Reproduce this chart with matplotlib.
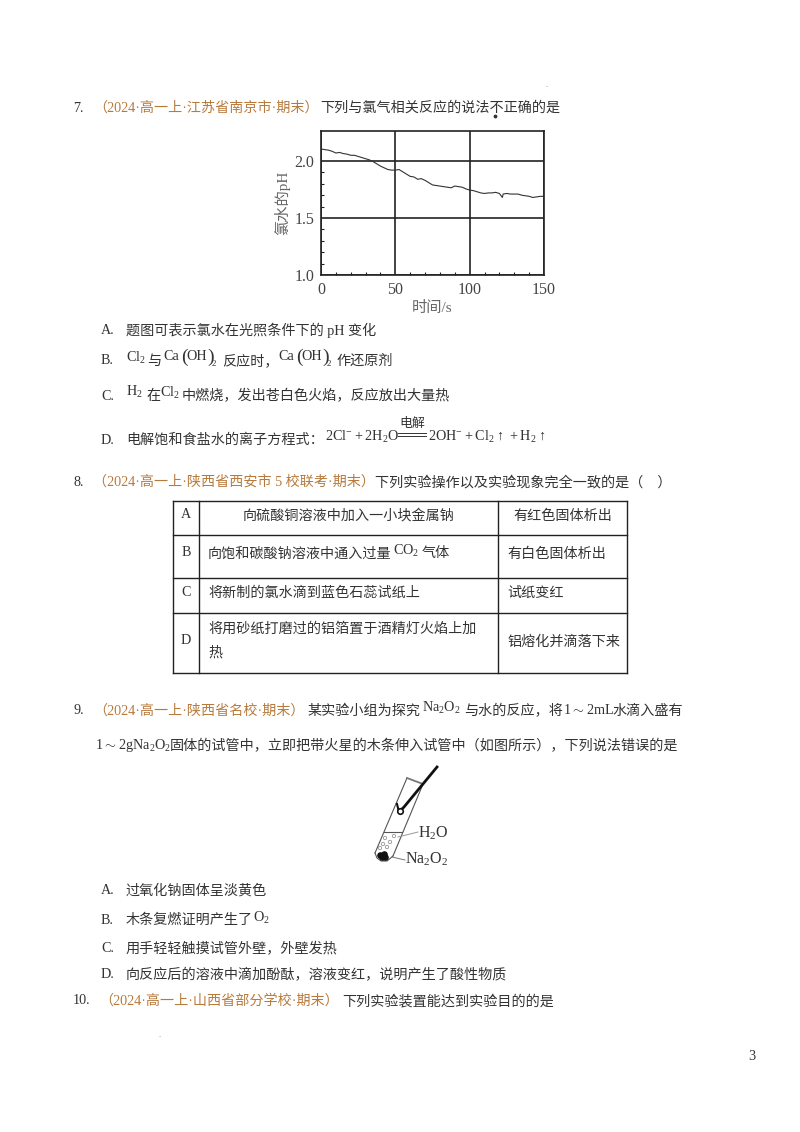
import matplotlib
matplotlib.use('Agg')
import matplotlib.pyplot as plt

plt.rcParams['font.family'] = ['Liberation Serif', 'Noto Sans CJK SC', 'DejaVu Sans']
plt.rcParams['mathtext.fontset'] = 'custom'
plt.rcParams['mathtext.rm'] = 'Liberation Serif'

# pH curve
time_s = [0, 2.5, 5, 7.5, 10, 12.5, 15, 17.5, 20, 22.5, 25, 27.5, 30, 32.5, 35, 37.5, 40, 42.5, 45, 47.5,
          50, 52.5, 55, 57.5, 60, 62.5, 65, 67.5, 70, 72.5, 75, 77.5, 80, 82.5, 85, 87.5, 90, 92.5, 95, 97.5,
          100, 102.5, 105, 107.5, 110, 112.5, 115, 117.5, 120, 122, 122.5, 125, 127.5, 130, 132.5, 135, 137.5,
          140, 142.5, 145, 147.5, 150]
ph = [2.105, 2.10, 2.095, 2.085, 2.07, 2.075, 2.065, 2.06, 2.05, 2.05, 2.04, 2.03, 2.02, 2.01, 1.995, 1.975, 1.955, 1.94, 1.925, 1.92,
      1.92, 1.925, 1.905, 1.885, 1.865, 1.86, 1.84, 1.845, 1.83, 1.81, 1.79, 1.785, 1.78, 1.775, 1.77, 1.765, 1.78, 1.775, 1.77, 1.755,
      1.745, 1.74, 1.73, 1.72, 1.715, 1.72, 1.72, 1.725, 1.715, 1.68, 1.71, 1.715, 1.71, 1.71, 1.71, 1.70, 1.695,
      1.69, 1.68, 1.685, 1.69, 1.69]

orange = '#b87a3c'
dark = '#333333'
line = '#222222'

fig = plt.figure(figsize=(8, 11.32), dpi=100)

# page overlay in pixel coordinates
page = fig.add_axes([0, 0, 1, 1])
page.set_xlim(0, 800)
page.set_ylim(1132, 0)
page.axis('off')


def put(x, y, s, color=dark, size=10.15, **kw):
    # y + 1 because the CJK glyph box sits a little high
    page.text(x, y + 1, s, color=color, fontsize=size, va='center', ha=kw.pop('ha', 'left'), **kw)


def ca_oh2(x, y):
    # Ca(OH)2 with the tall brackets the original formula has
    put(x, y, 'Ca')
    put(x + 18, y, '(', size=14)
    put(x + 23, y, 'OH')
    put(x + 44, y, ')', size=14)
    put(x + 49, y + 7, '2', size=6.5)


# question 7
put(73, 107, '7.')
put(93, 107, '（2024·高一上·江苏省南京市·期末）', orange)
put(320, 107, '下列与氯气相关反应的说法不正确的是')
page.scatter([495], [116], s=3, color=dark)
put(101, 329, 'A.')
put(126, 329, '题图可表示氯水在光照条件下的 pH 变化')
put(101, 360, 'B.')
put(126, 357, r'$\mathrm{Cl_2}$')
put(147, 360, '与')
ca_oh2(163, 356)
put(222, 360, '反应时，')
ca_oh2(278, 356)
put(337, 360, '作还原剂')
put(101, 395, 'C.')
put(126, 391, r'$\mathrm{H_2}$')
put(146, 395, '在')
put(160, 392, r'$\mathrm{Cl_2}$')
put(182, 395, '中燃烧，发出苍白色火焰，反应放出大量热')
put(101, 439, 'D.')
put(126, 439, '电解饱和食盐水的离子方程式：')
put(325, 436, r'$\mathrm{2Cl^{-}+2H_2O}$')
put(399, 423, '电解', size=9.3)
page.plot([398, 426], [433, 433], color=dark, lw=0.7)
page.plot([398, 426], [436, 436], color=dark, lw=0.7)
put(428, 436, r'$\mathrm{2OH^{-}+Cl_2\uparrow+H_2\uparrow}$')

# question 8
put(73, 481, '8.')
put(93, 481, '（2024·高一上·陕西省西安市 5 校联考·期末）', orange)
put(375, 481, '下列实验操作以及实验现象完全一致的是（    ）')

col_edges = [173, 199, 498, 627]
row_edges = [501, 535, 578, 613, 673]
for x in col_edges:
    page.plot([x, x], [row_edges[0], row_edges[-1]], color=line, lw=1.0)
for y in row_edges:
    page.plot([col_edges[0], col_edges[-1]], [y, y], color=line, lw=1.0)

row_letters = ['A', 'B', 'C', 'D']
letter_y = [514, 552, 592, 639]
col3 = ['有红色固体析出', '有白色固体析出', '试纸变红', '铝熔化并滴落下来']
col3_x = [513, 507, 507, 507]
col3_y = [515, 553, 592, 641]
for i, letter in enumerate(row_letters):
    put(186, letter_y[i], letter, ha='center')
    put(col3_x[i], col3_y[i], col3[i])
put(243, 515, '向硫酸铜溶液中加入一小块金属钠')
put(208, 553, '向饱和碳酸钠溶液中通入过量')
put(393, 550, r'$\mathrm{CO_2}$')
put(422, 553, '气体')
put(208, 592, '将新制的氯水滴到蓝色石蕊试纸上')
put(208, 628, '将用砂纸打磨过的铝箔置于酒精灯火焰上加')
put(208, 652, '热')

# question 9
put(73, 710, '9.')
put(93, 710, '（2024·高一上·陕西省名校·期末）', orange)
put(308, 710, '某实验小组为探究')
put(422, 707, r'$\mathrm{Na_2O_2}$')
put(464, 710, '与水的反应，将')
put(563, 709, r'$\mathrm{1{\sim}2mL}$')
put(612, 710, '水滴入盛有')
put(95, 744, r'$\mathrm{1{\sim}2gNa_2O_2}$')
put(170, 745, '固体的试管中，立即把带火星的木条伸入试管中（如图所示），下列说法错误的是')

# test tube sketch
page.plot([407, 375], [778, 853], color='#555555', lw=0.8)
page.plot([423, 393], [784, 856], color='#555555', lw=0.8)
page.plot([407, 423], [778, 784], color='#777777', lw=1.3)
page.plot([375, 377, 381, 387, 393], [853, 858, 861, 861, 856], color='#555555', lw=0.8)
page.plot([384, 402], [832, 832], color='#555555', lw=0.8)
page.plot([437, 404, 399], [767, 807, 812], color='#111111', lw=2.0)
page.plot([399, 397], [812, 804], color='#111111', lw=1.5)
page.scatter([400], [811], s=16, facecolor='white', edgecolor='#111111', lw=1.2, zorder=3)
page.scatter([382, 385, 380, 384], [857, 857, 855, 854], s=14, color='#111111', zorder=3)
page.scatter([385, 390, 387, 380, 394, 383], [838, 842, 847, 848, 836, 844], s=6, facecolor='none', edgecolor='#888888', lw=0.5)
page.plot([398, 418], [837, 832], color='#999999', lw=0.7)
page.plot([392, 405], [857, 860], color='#777777', lw=0.7)
put(418, 832, r'$\mathrm{H_2O}$', size=11.5)
put(405, 858, r'$\mathrm{Na_2O_2}$', size=11.5)

put(101, 890, 'A.')
put(126, 890, '过氧化钠固体呈淡黄色')
put(101, 919, 'B.')
put(126, 919, '木条复燃证明产生了')
put(253, 917, r'$\mathrm{O_2}$')
put(101, 948, 'C.')
put(126, 948, '用手轻轻触摸试管外壁，外壁发热')
put(101, 974, 'D.')
put(126, 974, '向反应后的溶液中滴加酚酞，溶液变红，说明产生了酸性物质')

# question 10
put(73, 1000, '10.')
put(99, 1000, '（2024·高一上·山西省部分学校·期末）', orange)
put(342, 1000, '下列实验装置能达到实验目的的是')
put(752, 1055, '3', ha='center')
put(545, 84, '.', color='#888888', size=6)
put(158, 1034, '.', color='#888888', size=6)

# pH chart, placed on the page from pixel bounds
ax = fig.add_axes([321 / 800, 1 - 275 / 1132, 223 / 800, 144 / 1132])
ax.plot(time_s, ph, color='#333333', lw=0.8)
ax.set_xlim(0, 150)
ax.set_ylim(1.0, 2.263)
ax.set_xticks([0, 50, 100, 150])
ax.set_yticks([1.0, 1.5, 2.0])
ax.set_yticklabels(['1.0', '1.5', '2.0'])
ax.set_xticks(range(0, 151, 10), minor=True)
ax.set_yticks([1.1, 1.2, 1.3, 1.4, 1.6, 1.7, 1.8, 1.9], minor=True)
ax.grid(True, which='major', color=line, lw=1.2)
ax.tick_params(which='major', length=0, labelsize=11.5, labelcolor='#444444', pad=5)
ax.tick_params(which='minor', direction='in', length=2.5, width=0.8, color=line)
for spine in ax.spines.values():
    spine.set_linewidth(1.2)
    spine.set_color(line)
ax.set_xlabel('时间/s', fontsize=11, color='#666666', labelpad=2)
ax.set_ylabel('氯水的pH', fontsize=11, color='#666666', labelpad=3)

fig.savefig('out.png', dpi=100, facecolor='white')
